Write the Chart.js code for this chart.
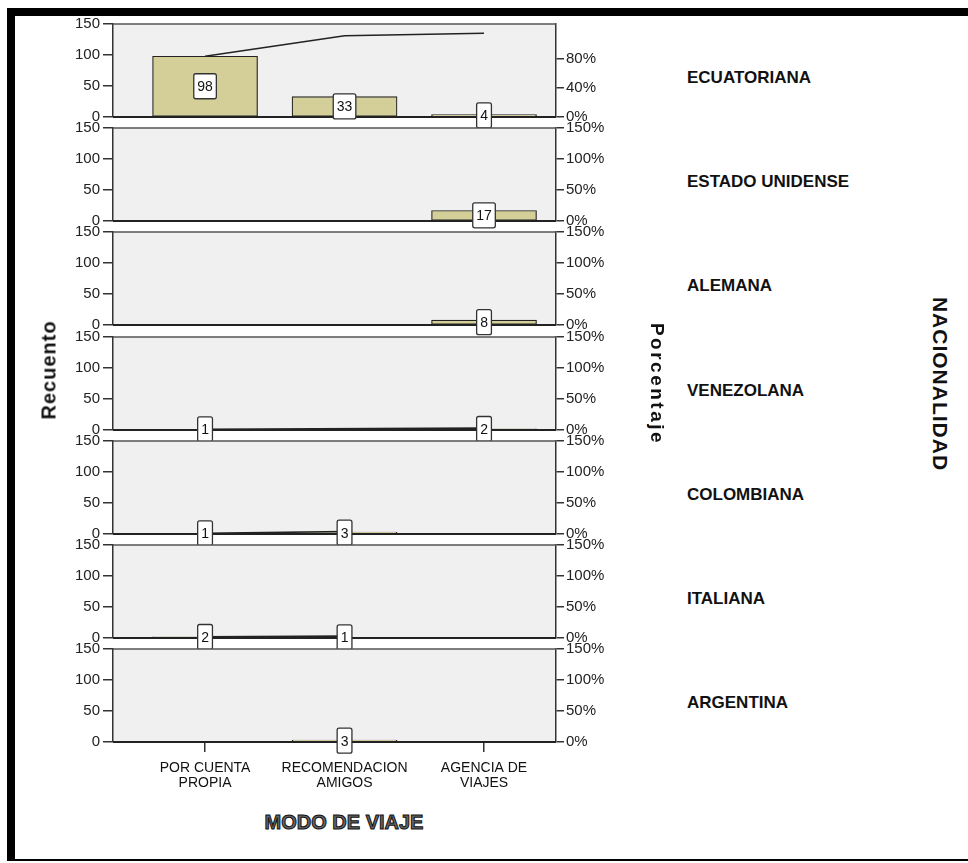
<!DOCTYPE html>
<html>
<head>
<meta charset="utf-8">
<script src="https://cdn.jsdelivr.net/npm/chart.js@4.4.0/dist/chart.umd.min.js"></script>
<style>
    body { margin: 0; background: #fff; width: 968px; height: 863px; position: relative; overflow: hidden; font-family: 'Liberation Sans', Arial, sans-serif; }
    .borde { position: absolute; background: #000; }
    .panel { position: absolute; left: 0; }
    .nac { position: absolute; left: 687px; font-weight: bold; font-size: 17px; color: #111; transform: translateY(-50%); white-space: nowrap; }
    .titulo { position: absolute; font-weight: bold; color: #111; white-space: nowrap; }
</style>
</head>
<body>
<div class="borde" style="left:7px;top:8px;width:961px;height:8px"></div>
<div class="borde" style="left:7px;top:8px;width:8px;height:853px"></div>
<div class="borde" style="left:7px;top:859px;width:961px;height:2px"></div>

<div id="paneles"></div>

<div class="titulo" style="left:49px;top:370px;font-size:20px;letter-spacing:1px;transform:translate(-50%,-50%) rotate(-90deg)">Recuento</div>
<div class="titulo" style="left:657px;top:384px;font-size:19px;letter-spacing:2.5px;transform:translate(-50%,-50%) rotate(90deg)">Porcentaje</div>
<div class="titulo" style="left:940px;top:384px;font-size:21px;letter-spacing:1px;transform:translate(-50%,-50%) rotate(90deg)">NACIONALIDAD</div>
<div class="titulo" style="left:344px;top:822px;font-size:20px;color:#666;-webkit-text-stroke:1px #111;transform:translate(-50%,-50%)">MODO DE VIAJE</div>

<script>
// datos
const nacionalidades = ['ECUATORIANA', 'ESTADO UNIDENSE', 'ALEMANA', 'VENEZOLANA', 'COLOMBIANA', 'ITALIANA', 'ARGENTINA'];
const modos = [['POR CUENTA', 'PROPIA'], ['RECOMENDACION', 'AMIGOS'], ['AGENCIA DE', 'VIAJES']];
const porCuentaPropia = [98, 0, 0, 1, 1, 2, 0];
const recomendacionAmigos = [33, 0, 0, 0, 3, 1, 3];
const agenciaViajes = [4, 17, 8, 2, 0, 0, 0];
const recuentoTicks = [0, 50, 100, 150];
const porcentajeTicksEcuatoriana = [0, 40, 80];
const porcentajeMaxEcuatoriana = 127;
const porcentajeTicks = [0, 50, 100, 150];

const series = [porCuentaPropia, recomendacionAmigos, agenciaViajes];
const fuente = "'Liberation Sans', Arial, sans-serif";

var panelPlugin = {
    id: 'panelPlugin',
    beforeDraw: function(chart) {
        var a = chart.chartArea, ctx = chart.ctx;
        ctx.save();
        ctx.fillStyle = '#f0f0f0';
        ctx.fillRect(a.left, a.top, a.right - a.left, a.bottom - a.top);
        ctx.restore();
    },
    afterDraw: function(chart) {
        var a = chart.chartArea, ctx = chart.ctx;
        ctx.save();
        ctx.strokeStyle = '#555';
        ctx.lineWidth = 1.5;
        ctx.beginPath();
        ctx.moveTo(a.left, a.top);
        ctx.lineTo(a.right, a.top);
        ctx.stroke();
        ctx.strokeStyle = '#222';
        ctx.lineWidth = 2;
        ctx.beginPath();
        ctx.moveTo(a.left, a.bottom);
        ctx.lineTo(a.right, a.bottom);
        ctx.stroke();

        // etiquetas de recuento
        var ds = chart.data.datasets[1];
        var meta = chart.getDatasetMeta(1);
        ctx.font = '14px ' + fuente;
        ctx.textAlign = 'center';
        ctx.textBaseline = 'middle';
        meta.data.forEach(function(bar, j) {
            var v = ds.data[j].y;
            if (!v) return;
            var cy = (bar.y + bar.base) / 2;
            var w = ctx.measureText(String(v)).width + 7, h = 25;
            ctx.fillStyle = '#fff';
            ctx.strokeStyle = '#333';
            ctx.lineWidth = 1.3;
            ctx.beginPath();
            ctx.roundRect(bar.x - w / 2, cy - h / 2, w, h, 2);
            ctx.fill();
            ctx.stroke();
            ctx.fillStyle = '#111';
            ctx.fillText(String(v), bar.x, cy + 1);
        });
        ctx.restore();
    }
};

var contenedor = document.getElementById('paneles');

nacionalidades.forEach(function(nac, i) {
    var ultimo = i === nacionalidades.length - 1;
    var top = 24 + i * 104.2;
    var padT = 14;
    var alto = padT + 93 + (ultimo ? 62 : 14);

    var canvas = document.createElement('canvas');
    canvas.className = 'panel';
    canvas.width = 619;
    canvas.height = alto;
    canvas.style.top = (top - padT) + 'px';
    contenedor.appendChild(canvas);

    var etiqueta = document.createElement('div');
    etiqueta.className = 'nac';
    etiqueta.style.top = (top + 54) + 'px';
    etiqueta.textContent = nac;
    contenedor.appendChild(etiqueta);

    var barras = series.map((s, j) => ({ x: j, y: s[i] }));
    var acumulado = 0;
    var linea = [];
    series.forEach(function(s, j) {
        if (s[i] > 0) {
            acumulado += s[i];
            linea.push({ x: j, y: acumulado });
        }
    });

    var pctTicks = i === 0 ? porcentajeTicksEcuatoriana : porcentajeTicks;
    var pctMax = i === 0 ? porcentajeMaxEcuatoriana : 150;

    new Chart(canvas.getContext('2d'), {
        type: 'bar',
        data: {
            datasets: [{
                type: 'line',
                data: linea,
                borderColor: '#222',
                borderWidth: 1.6,
                pointRadius: 0,
                tension: 0,
                spanGaps: true,
                order: 0,
                yAxisID: 'y'
            }, {
                type: 'bar',
                data: barras,
                backgroundColor: '#d4cf98',
                borderColor: '#222',
                borderWidth: 1.2,
                borderSkipped: false,
                barThickness: 105,
                order: 1,
                yAxisID: 'y'
            }]
        },
        options: {
            responsive: false,
            animation: false,
            layout: { padding: { top: padT, bottom: ultimo ? 0 : 14, left: 0, right: 0 } },
            plugins: { legend: { display: false }, tooltip: { enabled: false } },
            scales: {
                x: {
                    type: 'linear',
                    min: -0.66,
                    max: 2.516,
                    offset: false,
                    display: ultimo,
                    afterBuildTicks: function(s) { s.ticks = modos.map((m, j) => ({ value: j })); },
                    afterFit: function(s) { if (ultimo) s.height = 62; },
                    ticks: {
                        autoSkip: false,
                        maxRotation: 0,
                        padding: 9,
                        color: '#111',
                        font: { family: fuente, size: 14, lineHeight: 1.05 },
                        callback: function(v) { return modos[v]; }
                    },
                    grid: { offset: false, drawOnChartArea: false, tickLength: 10, color: '#333', lineWidth: 1.5 },
                    border: { display: false }
                },
                y: {
                    position: 'left',
                    min: 0,
                    max: 150,
                    afterBuildTicks: function(s) { s.ticks = recuentoTicks.map(v => ({ value: v })); },
                    afterFit: function(s) { s.width = 113; },
                    ticks: { padding: 3, color: '#222', font: { family: fuente, size: 15 } },
                    grid: { drawOnChartArea: false, tickLength: 10, color: '#333', lineWidth: 1.5 },
                    border: { color: '#333', width: 1.5 }
                },
                y2: {
                    position: 'right',
                    min: 0,
                    max: pctMax,
                    afterBuildTicks: function(s) { s.ticks = pctTicks.map(v => ({ value: v })); },
                    afterFit: function(s) { s.width = 63; },
                    ticks: {
                        padding: 2,
                        color: '#222',
                        font: { family: fuente, size: 15 },
                        callback: function(v) { return v + '%'; }
                    },
                    grid: { drawOnChartArea: false, tickLength: 8, color: '#333', lineWidth: 1.5 },
                    border: { color: '#333', width: 1.5 }
                }
            }
        },
        plugins: [panelPlugin]
    });
});
</script>
</body>
</html>
